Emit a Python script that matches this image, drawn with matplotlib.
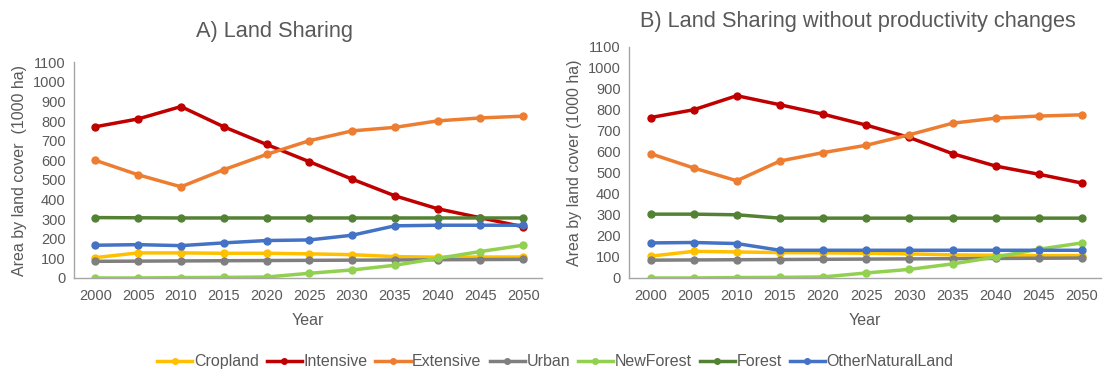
import numpy as np
import matplotlib
matplotlib.use('Agg')
import matplotlib.pyplot as plt

years = [2000, 2005, 2010, 2015, 2020, 2025, 2030, 2035, 2040, 2045, 2050]
names = ['Cropland', 'Intensive', 'Extensive', 'Urban', 'NewForest', 'Forest', 'OtherNaturalLand']
colors = ['#FFC000', '#C00000', '#ED7D31', '#7F7F7F', '#92D050', '#548235', '#4472C4']

# A) Land Sharing
a_cropland = [104, 128, 128, 126, 126, 123, 119, 109, 106, 107, 107]
a_intensive = [771, 811, 874, 771, 681, 593, 504, 419, 353, 307, 261]
a_extensive = [600, 526, 465, 552, 630, 700, 750, 768, 801, 816, 825]
a_urban = [85, 86, 87, 88, 89, 90, 91, 92, 93, 94, 95]
a_newforest = [0, 0, 2, 3, 5, 24, 41, 65, 100, 135, 167]
a_forest = [308, 307, 306, 306, 306, 306, 306, 306, 306, 306, 306]
a_othernat = [167, 170, 165, 179, 191, 194, 218, 266, 269, 269, 269]

# B) Land Sharing without productivity changes
b_cropland = [104, 127, 124, 121, 120, 118, 115, 110, 108, 107, 107]
b_intensive = [764, 801, 868, 825, 780, 728, 669, 592, 533, 494, 452]
b_extensive = [592, 524, 463, 557, 597, 632, 682, 737, 761, 771, 777]
b_urban = [85, 86, 87, 88, 89, 90, 91, 92, 93, 94, 95]
b_newforest = [0, 0, 2, 3, 5, 24, 41, 67, 100, 137, 167]
b_forest = [304, 304, 301, 285, 285, 285, 285, 285, 285, 285, 285]
b_othernat = [167, 169, 164, 132, 132, 132, 132, 132, 132, 132, 132]

series_a = [a_cropland, a_intensive, a_extensive, a_urban, a_newforest, a_forest, a_othernat]
series_b = [b_cropland, b_intensive, b_extensive, b_urban, b_newforest, b_forest, b_othernat]

txt = '#595959'
plt.rcParams['font.family'] = ['Liberation Sans', 'DejaVu Sans']

fig = plt.figure(figsize=(11.04, 3.72), dpi=100)
ax1 = fig.add_axes([0.067, 0.2527, 0.424, 0.58])
ax2 = fig.add_axes([0.5697, 0.2527, 0.4275, 0.621])


def draw(ax, series, ylabel):
    for vals, name, c in zip(series, names, colors):
        ax.plot(years, vals, color=c, lw=2.5, marker='o', ms=5, label=name)
    ax.set_ylim(0, 1100)
    ax.set_yticks(range(0, 1101, 100))
    ax.set_xlim(1997.5, 2052.2)
    ax.set_xticks(years)
    for s in ['top', 'right']:
        ax.spines[s].set_visible(False)
    for s in ['left', 'bottom']:
        ax.spines[s].set_color('#a6a6a6')
        ax.spines[s].set_linewidth(1.0)
    ax.tick_params(length=0, labelsize=10.5, colors=txt, pad=8)
    ax.tick_params(axis='y', pad=6)
    ax.set_xlabel('Year', fontsize=11.5, color=txt, labelpad=7)
    ax.set_ylabel(ylabel, fontsize=11.5, color=txt, labelpad=4)


draw(ax1, series_a, 'Area by land cover  (1000 ha)')
draw(ax2, series_b, 'Area by land cover (1000 ha)')

fig.text(0.2486, 0.915, 'A) Land Sharing', fontsize=15.7, color=txt, ha='center', va='center')
fig.text(0.777, 0.942, 'B) Land Sharing without productivity changes', fontsize=15.7,
         color=txt, ha='center', va='center')

handles, labels = ax1.get_legend_handles_labels()
fig.legend(handles, labels, loc='center', bbox_to_anchor=(0.503, 0.027), ncol=7,
           frameon=False, fontsize=11.5, labelcolor=txt, handlelength=2.2,
           handletextpad=0.1, columnspacing=0.5, markerscale=0.8)

fig.savefig('out.png', dpi=100)
